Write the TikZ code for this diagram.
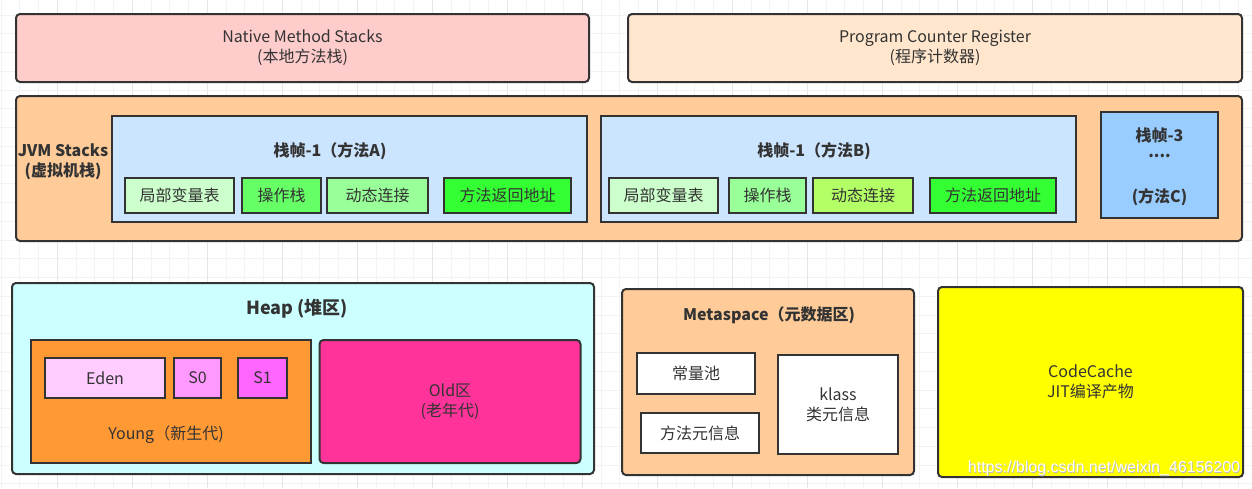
\documentclass[tikz,border=0pt]{standalone}
\usepackage{fontspec}
\setmainfont{Noto Sans CJK SC}
\newfontfamily\wmfont{Liberation Sans}
\definecolor{bd}{HTML}{333333}
\definecolor{txt}{HTML}{333333}
\definecolor{gridminor}{HTML}{F3F3F3}
\definecolor{gridmajor}{HTML}{E6E6E6}
\definecolor{cNative}{HTML}{FFCCCC}
\definecolor{cPC}{HTML}{FFE6CC}
\definecolor{cPeach}{HTML}{FFCC99}
\definecolor{cFrame}{HTML}{CCE5FF}
\definecolor{cFrameC}{HTML}{99CCFF}
\definecolor{cLocal}{HTML}{CCFFCC}
\definecolor{cOpA}{HTML}{66FF66}
\definecolor{cDynA}{HTML}{99FF99}
\definecolor{cRet}{HTML}{33FF33}
\definecolor{cOpB}{HTML}{99FF99}
\definecolor{cDynB}{HTML}{B3FF66}
\definecolor{cHeap}{HTML}{CCFFFF}
\definecolor{cYoung}{HTML}{FF9933}
\definecolor{cEden}{HTML}{FFCCFF}
\definecolor{cSzero}{HTML}{FF99FF}
\definecolor{cSone}{HTML}{FF66FF}
\definecolor{cOld}{HTML}{FF3399}
\definecolor{cCode}{HTML}{FFFF00}
\tikzset{
  box/.style={draw=bd, line width=2pt, inner sep=0pt, text=txt, align=center,
    font=\fontsize{16}{20}\selectfont},
  rbox/.style={box, rounded corners=4pt},
  lbl/.style={inner sep=0pt, text=txt, align=center, font=\fontsize{16}{20}\selectfont},
  blbl/.style={lbl, font=\fontsize{16}{20}\selectfont\bfseries},
}
\begin{document}
\begin{tikzpicture}[x=1pt,y=-1pt]
\useasboundingbox (0,0) rectangle (1252,488);
\fill[white] (0,0) rectangle (1252,488);
% grid
\foreach \i in {0,...,66} {
  \draw[gridminor, line width=0.8pt] ({1+18.75*\i},0) -- ({1+18.75*\i},488);
}
\foreach \i in {0,...,25} {
  \draw[gridminor, line width=0.8pt] (0,{14.95+18.75*\i}) -- (1252,{14.95+18.75*\i});
}
\foreach \i in {0,...,16} {
  \draw[gridmajor, line width=0.8pt] ({57.25+75*\i},0) -- ({57.25+75*\i},488);
}
% top row
\node[rbox, fill=cNative, minimum width=573pt, minimum height=68pt] (native) at (302.5,48)
  {Native Method Stacks\\(本地方法栈)};
\node[rbox, fill=cPC, minimum width=614pt, minimum height=68pt] (pc) at (935,48)
  {Program Counter Register\\(程序计数器)};
% JVM stacks
\node[rbox, fill=cPeach, minimum width=1226pt, minimum height=145pt] (jvm) at (629,168.5) {};
\node[blbl] (jvmlbl) at (63,162) {JVM Stacks\\(虚拟机栈)};
% frame A
\node[box, fill=cFrame, minimum width=475pt, minimum height=106pt] (fa) at (349.5,169) {};
\node[blbl] (fatitle) at (330,151) {栈帧-1（方法A)};
\node[box, fill=cLocal, minimum width=109pt, minimum height=35pt] (aloc) at (179.5,195.5) {局部变量表};
\node[box, fill=cOpA, minimum width=79pt, minimum height=35pt] (aop) at (281.5,195.5) {操作栈};
\node[box, fill=cDynA, minimum width=101pt, minimum height=35pt] (adyn) at (377.5,195.5) {动态连接};
\node[box, fill=cRet, minimum width=127pt, minimum height=35pt] (aret) at (507.5,195.5) {方法返回地址};
% frame B
\node[box, fill=cFrame, minimum width=475pt, minimum height=106pt] (fb) at (838,169) {};
\node[blbl] (fbtitle) at (814,151) {栈帧-1（方法B)};
\node[box, fill=cLocal, minimum width=109pt, minimum height=35pt] (bloc) at (663.5,195.5) {局部变量表};
\node[box, fill=cOpB, minimum width=77pt, minimum height=35pt] (bop) at (767.5,195.5) {操作栈};
\node[box, fill=cDynB, minimum width=100pt, minimum height=35pt] (bdyn) at (863,195.5) {动态连接};
\node[box, fill=cRet, minimum width=126pt, minimum height=35pt] (bret) at (993,195.5) {方法返回地址};
% frame C
\node[box, fill=cFrameC, minimum width=117pt, minimum height=106pt] (fc) at (1159.5,165) {};
\node[blbl] (fct1) at (1159.5,135) {栈帧-3};
\node[blbl] (fct2) at (1159.5,156) {....};
\node[blbl] (fct3) at (1159.5,197) {(方法C)};
% heap
\node[rbox, fill=cHeap, minimum width=582pt, minimum height=191pt] (heap) at (303,378.5) {};
\node[lbl, font=\fontsize{18}{22}\selectfont\bfseries] (heaptitle) at (297,309) {Heap (堆区)};
\node[box, fill=cYoung, minimum width=280pt, minimum height=123pt] (young) at (171,401.5) {};
\node[lbl] (younglbl) at (166,435) {Young（新生代)};
\node[box, fill=cEden, minimum width=120pt, minimum height=40pt] (eden) at (105,378) {Eden};
\node[box, fill=cSzero, minimum width=47pt, minimum height=40pt] (s0) at (197.5,378) {S0};
\node[box, fill=cSone, minimum width=49pt, minimum height=40pt] (s1) at (262.5,378) {S1};
\node[rbox, fill=cOld, minimum width=261pt, minimum height=123pt] (old) at (450,401.5) {Old区\\(老年代)};
% metaspace
\node[rbox, fill=cPeach, minimum width=292pt, minimum height=186pt] (meta) at (768,382) {};
\node[blbl] (metatitle) at (769,315) {Metaspace（元数据区)};
\node[box, fill=white, minimum width=118pt, minimum height=41pt] (pool) at (696,373.5) {常量池};
\node[box, fill=white, minimum width=118pt, minimum height=40pt] (minfo) at (700,433) {方法元信息};
\node[box, fill=white, minimum width=120pt, minimum height=99pt] (klass) at (838,404.5) {klass\\类元信息};
% code cache
\node[rbox, fill=cCode, minimum width=305pt, minimum height=190pt] (code) at (1090.5,382) {CodeCache\\JIT编译产物};
% watermark
\node[inner sep=0pt, anchor=east, text=gray!55, font=\wmfont\fontsize{16}{18}\selectfont] (wmshadow) at (1241,469) {https://blog.csdn.net/weixin\_46156200};
\node[inner sep=0pt, anchor=east, text=white, font=\wmfont\fontsize{16}{18}\selectfont] (wm) at (1240.3,468.3) {https://blog.csdn.net/weixin\_46156200};
\end{tikzpicture}
\end{document}
